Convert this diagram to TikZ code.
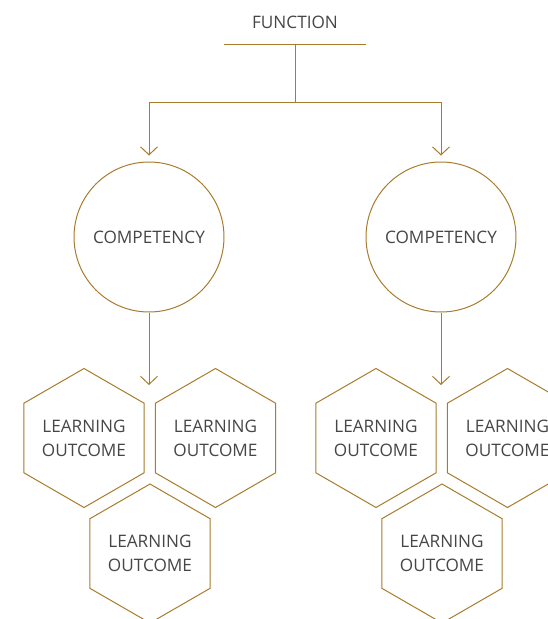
\documentclass[tikz,border=0pt]{standalone}
\usepackage{fontspec}
\setmainfont{Open Sans}
\usetikzlibrary{arrows.meta,shapes.geometric}
\definecolor{gold}{RGB}{168,124,44}
\definecolor{txt}{RGB}{70,70,70}
\tikzset{
  ln/.style={draw=gold,line width=1pt},
  arr/.style={ln,-{Straight Barb[length=8pt,width=17pt,line width=1pt]}},
  circ/.style={circle,draw=gold,line width=1pt,minimum size=150pt,inner sep=0pt,text=txt,font=\fontsize{17.2}{24}\selectfont},
  hex/.style={regular polygon,regular polygon sides=6,shape border rotate=90,draw=gold,line width=1pt,minimum size=139pt,inner sep=0pt,text=txt,align=center,font=\fontsize{17.2}{24}\selectfont},
  lbl/.style={text=txt,font=\fontsize{17.2}{24}\selectfont}
}
\begin{document}
\begin{tikzpicture}[x=1pt,y=-1pt]
\useasboundingbox (0,0) rectangle (547,619);
\node[lbl] (fn) at (295,22.5) {FUNCTION};
\coordinate (fl) at (224,44);
\coordinate (fr) at (366,44);
\coordinate (fm) at (295,44);
\coordinate (bm) at (295,102);
\coordinate (bl) at (149,102);
\coordinate (br) at (441,102);
\draw[ln] (fl) -- (fr);
\draw[ln] (fm) -- (bm);
\draw[ln] (bl) -- (br);
\node[circ] (c1) at (149,237) {COMPETENCY};
\node[circ] (c2) at (441,237) {COMPETENCY};
\draw[arr,shorten >=6pt] (bl) -- (c1.north);
\draw[arr,shorten >=6pt] (br) -- (c2.north);
\node[hex] (l1) at (84,438) {LEARNING\\OUTCOME};
\node[hex] (l2) at (215.5,438) {LEARNING\\OUTCOME};
\node[hex] (l3) at (150,553.5) {LEARNING\\OUTCOME};
\node[hex] (r1) at (376,438) {LEARNING\\OUTCOME};
\node[hex] (r2) at (507.5,438) {LEARNING\\OUTCOME};
\node[hex] (r3) at (442,553.5) {LEARNING\\OUTCOME};
\coordinate (t1) at (149,385);
\coordinate (t2) at (441,385);
\draw[arr] (c1.south) -- (t1);
\draw[arr] (c2.south) -- (t2);
\end{tikzpicture}
\end{document}
